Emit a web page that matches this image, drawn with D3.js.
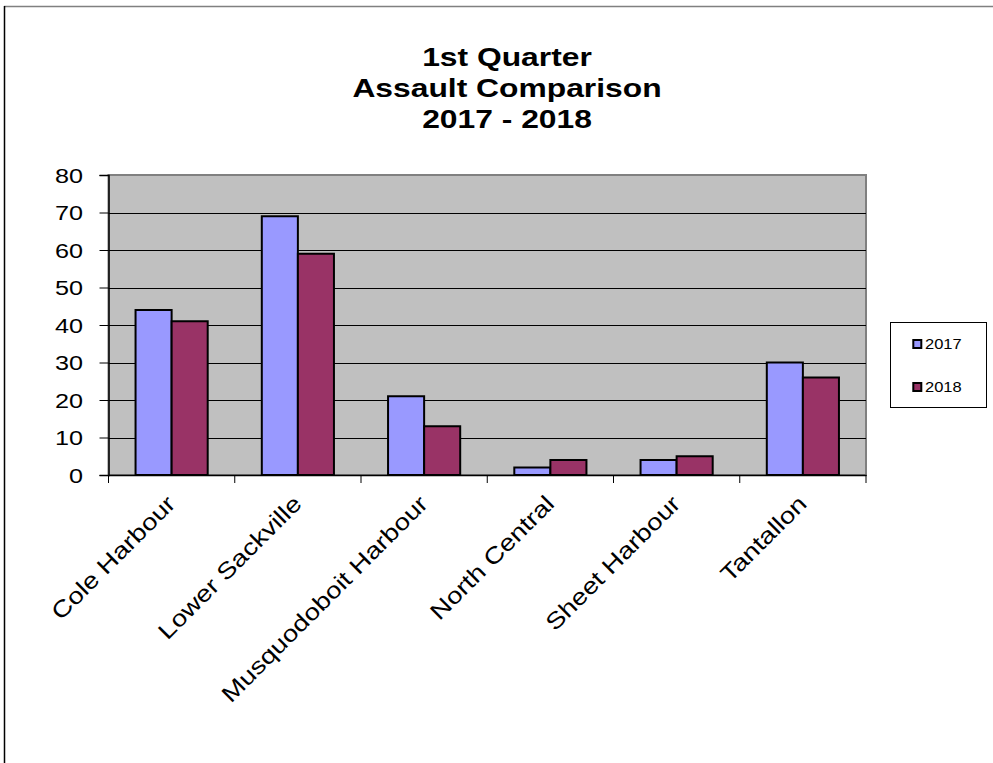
<!DOCTYPE html>
<html><head><meta charset="utf-8">
<script src="https://cdn.jsdelivr.net/npm/d3@7"></script>
<style>body{margin:0;background:#fff}svg{display:block}</style>
</head><body>
<svg id="c" width="993" height="763"></svg>
<script>
const categories = ["Cole Harbour","Lower Sackville","Musquodoboit Harbour","North Central","Sheet Harbour","Tantallon"];
const seriesNames = ["2017","2018"];
const values2017 = [44,69,21,2,4,30];
const values2018 = [41,59,13,4,5,26];
const yTicks = [0,10,20,30,40,50,60,70,80];
const titleLines = ["1st Quarter","Assault Comparison","2017 - 2018"];
const colors = ["#9999FF","#993366"];

const svg = d3.select("#c");
const font = "Arial, 'Liberation Sans', sans-serif";
const SX = 1.2; // horizontal stretch of text seen in the reference
// outer frame
svg.append("line").attr("x1",4).attr("x2",993).attr("y1",6.5).attr("y2",6.5).attr("stroke","#808080").attr("stroke-width",1.5);
svg.append("line").attr("x1",4.5).attr("x2",4.5).attr("y1",6).attr("y2",763).attr("stroke","#000").attr("stroke-width",1.5);

const L=108.5, R=866, T=175, B=475;
const x = d3.scaleBand().domain(categories).range([L,R]).paddingInner(0).paddingOuter(0);
const y = d3.scaleLinear().domain([0,80]).range([B,T]);
const xs = d3.scaleBand().domain(seriesNames).range([0,x.bandwidth()]).paddingInner(0).paddingOuter(0.75);

svg.append("rect").attr("x",L).attr("y",T).attr("width",R-L).attr("height",B-T).attr("fill","#C0C0C0").attr("stroke","#808080").attr("stroke-width",2);

// gridlines
svg.append("g").selectAll("line").data(yTicks.filter(d=>d>0&&d<80)).join("line")
 .attr("x1",L).attr("x2",R).attr("y1",d=>Math.round(y(d))+0.5).attr("y2",d=>Math.round(y(d))+0.5)
 .attr("stroke","#000").attr("stroke-width",1);

// bars
const data = categories.map((c,i)=>({c, v:[values2017[i],values2018[i]]}));
const g = svg.append("g");
data.forEach(d=>{
  seriesNames.forEach((s,j)=>{
    g.append("rect").attr("x",x(d.c)+xs(s)).attr("y",y(d.v[j])).attr("width",xs.bandwidth()).attr("height",B-y(d.v[j]))
     .attr("fill",colors[j]).attr("stroke","#000").attr("stroke-width",2);
  });
});

// y axis
const ya = svg.append("g").attr("transform",`translate(${L},0)`)
 .call(d3.axisLeft(y).tickValues(yTicks).tickSize(9).tickFormat(""));
ya.select(".domain").attr("stroke","#000").attr("stroke-width",1.5);
ya.selectAll(".tick line").attr("stroke","#000");
svg.append("g").selectAll("text").data(yTicks).join("text")
 .attr("transform",d=>`translate(83,${y(d)}) scale(${SX},1)`)
 .attr("text-anchor","end").attr("dy","0.36em").attr("font-family",font).attr("font-size",21).text(d=>d);

// x axis
const xa = svg.append("g").attr("transform",`translate(0,${B})`)
 .call(d3.axisBottom(x).tickSize(0).tickFormat(""));
xa.select(".domain").attr("stroke","#000").attr("stroke-width",1.5);
const tickPos = categories.map(c=>x(c)).concat([R]);
xa.selectAll(".sep").data(tickPos).join("line").attr("class","sep")
 .attr("x1",d=>d).attr("x2",d=>d).attr("y1",0).attr("y2",8).attr("stroke","#000");
svg.append("g").selectAll("text").data(categories).join("text")
 .attr("transform",d=>`translate(${x(d)+x.bandwidth()/2-7},${B+18}) rotate(-45) scale(${SX},1)`)
 .attr("text-anchor","end").attr("font-family",font).attr("font-size",23).attr("dy","0.75em").text(d=>d);

// title
const tY = [66, 96.5, 127.5];
svg.append("g").selectAll("text").data(titleLines).join("text")
 .attr("transform",(d,i)=>`translate(507,${tY[i]}) scale(${SX},1)`).attr("text-anchor","middle")
 .attr("font-family",font).attr("font-size",26.5).attr("font-weight","bold").text(d=>d);

// legend
svg.append("rect").attr("x",890.5).attr("y",322.5).attr("width",96).attr("height",85).attr("fill","#fff").attr("stroke","#000").attr("stroke-width",1);
const legY = [349, 392];
seriesNames.forEach((s,j)=>{
  svg.append("rect").attr("x",913.3).attr("y",legY[j]-9).attr("width",8).attr("height",8).attr("fill",colors[j]).attr("stroke","#000").attr("stroke-width",2);
  svg.append("text").attr("transform",`translate(925,${legY[j]}) scale(1.1,1)`).attr("font-family",font).attr("font-size",15).text(s);
});
</script>
</body></html>
